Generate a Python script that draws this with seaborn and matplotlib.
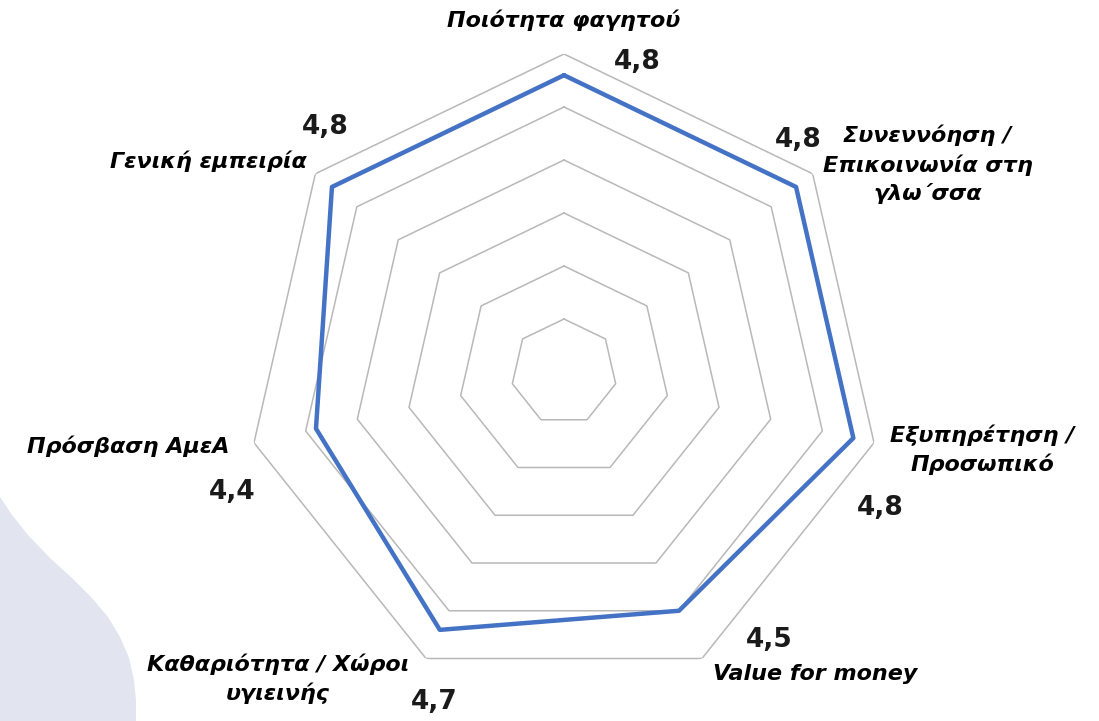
import numpy as np
import pandas as pd
import matplotlib.pyplot as plt
import seaborn as sns
from matplotlib.patches import Polygon

# --- data ---
categories = [
    'Ποιότητα φαγητού',
    'Συνεννόηση /\nΕπικοινωνία στη\nγλω΄σσα',
    'Εξυπηρέτηση /\nΠροσωπικό',
    'Value for money',
    'Καθαριότητα / Χώροι\nυγιεινής',
    'Πρόσβαση ΑμεΑ',
    'Γενική εμπειρία',
]
scores = [4.8, 4.8, 4.8, 4.5, 4.7, 4.4, 4.8]
score_labels = ['4,8', '4,8', '4,8', '4,5', '4,7', '4,4', '4,8']
ring_levels = [2.5, 3.0, 3.5, 4.0, 4.5, 5.0]
r_min, r_max = 2.0, 5.0

# label offsets in pixels (layout only)
value_offsets = [(73, 13), (2, 47), (27, -70), (90, -29), (-6, -72), (-84, -63), (-7, 60)]
cat_offsets = [(0, 34), (115, 9), (108, -7), (113, -15), (-148, -20), (-126, -3), (-107, 12)]

n = len(categories)
theta = np.linspace(0, 2 * np.pi, n, endpoint=False)
theta_closed = np.append(theta, 2 * np.pi)
df = pd.DataFrame({'theta': theta_closed,
                   'score': scores + scores[:1]})

sns.set_theme(style='white')
plt.rcParams['font.family'] = ['DejaVu Sans']

fig = plt.figure(figsize=(10.99, 7.21), dpi=100)
fig.patch.set_facecolor('white')

# decorative lavender shape bottom-left (pixel coords -> figure coords)
W, H = 1099, 721
shape_px = [(0, 497), (12, 515), (28, 535), (50, 558), (72, 578), (92, 598),
            (108, 617), (120, 637), (129, 658), (134, 680), (136, 700),
            (136, 721), (0, 721)]
fig.patches.append(Polygon([(x / W, 1 - y / H) for x, y in shape_px], closed=True,
                           transform=fig.transFigure, facecolor='#e2e4f0',
                           edgecolor='none', zorder=0))

cx, cy, R = 564, 372, 318
ax = fig.add_axes([(cx - R) / W, (H - cy - R) / H, 2 * R / W, 2 * R / H], projection='polar')
ax.set_facecolor('none')
ax.set_theta_zero_location('N')
ax.set_theta_direction(-1)
ax.set_ylim(r_min, r_max)
ax.grid(False)
ax.spines['polar'].set_visible(False)
ax.set_xticks([])
ax.set_yticks([])

# heptagon gridlines
for lvl in ring_levels:
    ax.plot(theta_closed, [lvl] * (n + 1), color='#b8b8b8', lw=1.1, zorder=1)

sns.lineplot(data=df, x='theta', y='score', sort=False, estimator=None, ax=ax,
             color='#4472c4', linewidth=3.2, zorder=3)
ax.set_xlabel('')
ax.set_ylabel('')

for i in range(n):
    ax.annotate(score_labels[i], xy=(theta[i], scores[i]), xytext=value_offsets[i],
                textcoords='offset pixels', ha='center', va='center',
                fontsize=19, fontweight='bold', color='#1a1a1a', annotation_clip=False)
    ax.annotate(categories[i], xy=(theta[i], r_max), xytext=cat_offsets[i],
                textcoords='offset pixels', ha='center', va='center',
                fontsize=16, fontweight='bold', fontstyle='italic', color='black',
                linespacing=1.45, annotation_clip=False)

fig.savefig('out.png', dpi=100)
